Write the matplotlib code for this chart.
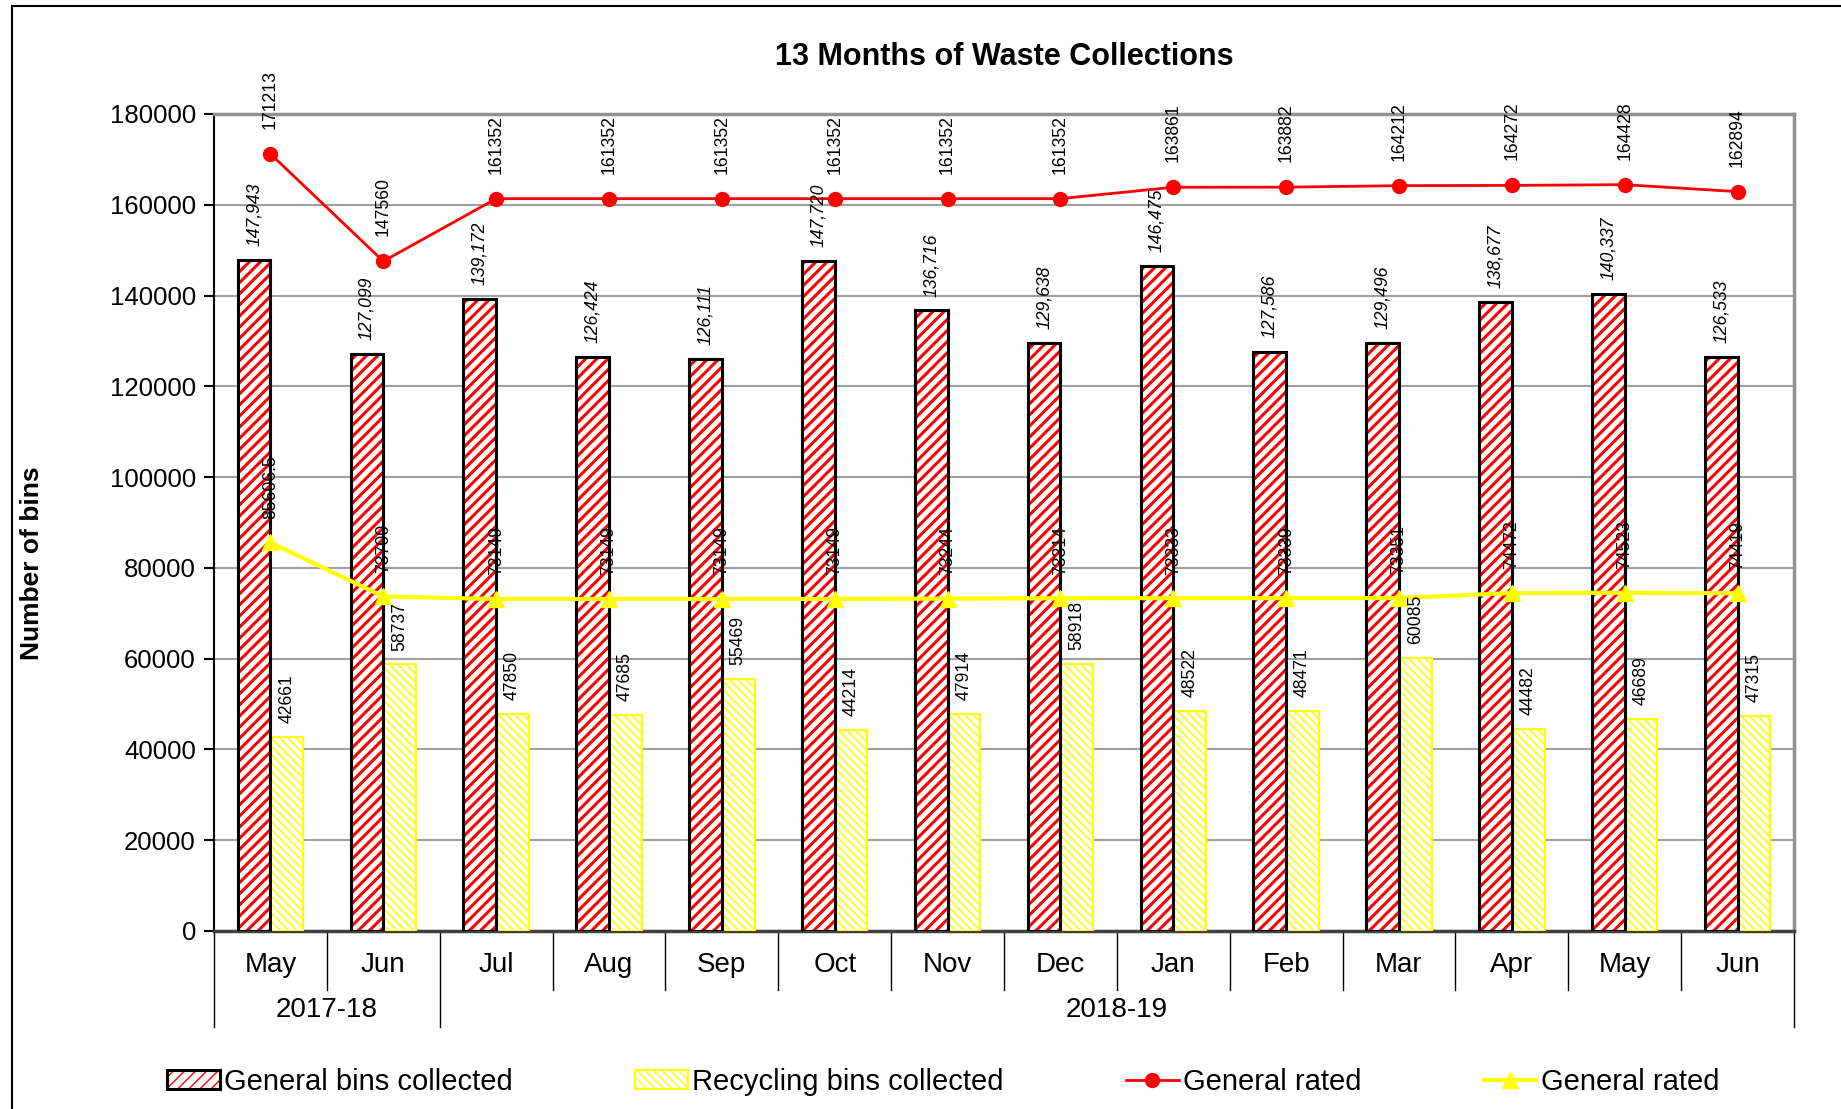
import matplotlib
matplotlib.use("Agg")
import matplotlib.pyplot as plt
from matplotlib.lines import Line2D
from matplotlib.patches import Patch
import numpy as np

plt.rcParams['font.family'] = ['Liberation Sans', 'DejaVu Sans']

# Meses (mayo 2017 - junio 2019)
months = ["May", "Jun", "Jul", "Aug", "Sep", "Oct", "Nov", "Dec",
          "Jan", "Feb", "Mar", "Apr", "May", "Jun"]
years = ["2017-18", "2018-19"]
year_spans = [(0, 1), (2, 13)]

general_collected = [147943, 127099, 139172, 126424, 126111, 147720, 136716,
                     129638, 146475, 127586, 129496, 138677, 140337, 126533]
recycling_collected = [42661, 58737, 47850, 47685, 55469, 44214, 47914,
                       58918, 48522, 48471, 60085, 44482, 46689, 47315]
general_rated = [171213, 147560, 161352, 161352, 161352, 161352, 161352,
                 161352, 163861, 163882, 164212, 164272, 164428, 162894]
recycling_rated = [85606.5, 73700, 73149, 73149, 73149, 73149, 73244,
                   73314, 73333, 73339, 73351, 74472, 74523, 74419]

W, H = 1841, 1109
fig = plt.figure(figsize=(W / 100, H / 100), dpi=100)
ax = fig.add_axes([214 / W, 1 - 931 / H, (1794 - 214) / W, (931 - 114) / H])

x = np.arange(len(months))
bw = 0.29

# Barras generales: rayado rojo + borde negro
with plt.rc_context({'hatch.linewidth': 2.2}):
    ax.bar(x - bw / 2, general_collected, bw, facecolor='white', edgecolor='red',
           hatch='///', linewidth=0, zorder=3)
ax.bar(x - bw / 2, general_collected, bw, facecolor='none', edgecolor='black',
       linewidth=2.2, zorder=4)

# Barras reciclaje: rayado amarillo fino
with plt.rc_context({'hatch.linewidth': 1.2}):
    ax.bar(x + bw / 2, recycling_collected, bw, facecolor='white', edgecolor='#FFFF00',
           hatch='\\\\\\\\', linewidth=1.5, zorder=3)

ax.plot(x, general_rated, color='red', lw=2, marker='o', ms=10, zorder=5)
ax.plot(x, recycling_rated, color='#FFFF00', lw=3, marker='^', ms=11, zorder=5)

# Etiquetas de datos
lab = dict(rotation=90, ha='center', va='bottom', fontsize=12.7,
           textcoords='offset points', annotation_clip=False)
for i in range(len(months)):
    ax.annotate(f"{general_collected[i]:,}", (x[i] - bw / 2, general_collected[i]),
                xytext=(0, 10), style='italic', zorder=6, **lab)
    ax.annotate(f"{recycling_collected[i]}", (x[i] + bw / 2, recycling_collected[i]),
                xytext=(0, 10), zorder=6, **lab)
    ax.annotate(f"{general_rated[i]:g}", (x[i], general_rated[i]),
                xytext=(0, 18), zorder=6, **lab)
    ax.annotate(f"{recycling_rated[i]:g}", (x[i], recycling_rated[i]),
                xytext=(0, 17), zorder=6, **lab)

ax.set_xlim(-0.5, len(months) - 0.5)
ax.set_ylim(0, 180000)
ax.set_yticks(np.arange(0, 180001, 20000))
ax.tick_params(axis='y', labelsize=18.5, length=7, width=1.5, direction='out', pad=6)
ax.set_xticks([])
ax.yaxis.grid(True, color='#A0A0A0', lw=1.5, zorder=0)
ax.set_axisbelow(True)

for s in ['top', 'right']:
    ax.spines[s].set_color('#909090')
    ax.spines[s].set_linewidth(2.5)
ax.spines['left'].set_color('black')
ax.spines['left'].set_linewidth(1.5)
ax.spines['bottom'].set_color('#404040')
ax.spines['bottom'].set_linewidth(2.5)

ax.set_title("13 Months of Waste Collections", fontsize=22, fontweight='bold', pad=35)
fig.text(32 / W, 1 - 563 / H, "Number of bins", rotation=90, ha='center', va='center',
         fontsize=19, fontweight='bold')

# Eje de categorías en dos niveles
tr = ax.get_xaxis_transform()
ax_h = (931 - 114)
y_month = -(965 - 931) / ax_h
y_year = -(1010 - 931) / ax_h
y_sep1 = -(990 - 931) / ax_h
y_sep2 = -(1027 - 931) / ax_h
group_edges = {-0.5, 1.5, len(months) - 0.5}
for b in np.arange(-0.5, len(months), 1.0):
    y_end = y_sep2 if b in group_edges else y_sep1
    ax.plot([b, b], [0, y_end], transform=tr, color='black', lw=1, clip_on=False)
for i, m in enumerate(months):
    ax.text(i, y_month, m, transform=tr, ha='center', va='center', fontsize=20)
for name, (a, b) in zip(years, year_spans):
    ax.text((a + b) / 2, y_year, name, transform=tr, ha='center', va='center', fontsize=20)

# Marco exterior (izquierda y arriba)
fig.add_artist(Line2D([12 / W, 12 / W], [0, 1 - 6 / H], color='black', lw=1.5))
fig.add_artist(Line2D([12 / W, 1], [1 - 6 / H, 1 - 6 / H], color='black', lw=1.5))

# Leyenda
with plt.rc_context({'hatch.linewidth': 2.2}):
    h1 = Patch(facecolor='white', edgecolor='red', hatch='///', linewidth=0)
with plt.rc_context({'hatch.linewidth': 1.2}):
    h2 = Patch(facecolor='white', edgecolor='#FFFF00', hatch='\\\\\\\\', linewidth=1.5)
h1b = Patch(facecolor='none', edgecolor='black', linewidth=2.2)
h3 = Line2D([], [], color='red', lw=2, marker='o', ms=10)
h4 = Line2D([], [], color='#FFFF00', lw=3, marker='^', ms=11)
fig.legend([(h1, h1b), h2, h3, h4],
           ["General bins collected", "Recycling bins collected", "General rated", "General rated"],
           loc='center left', bbox_to_anchor=(167 / W, 1 - 1082 / H), ncol=4,
           frameon=False, fontsize=21, handlelength=1.8, handleheight=0.65,
           handletextpad=0.15, columnspacing=4.2, borderpad=0, borderaxespad=0)

fig.savefig("out.png", dpi=100)
